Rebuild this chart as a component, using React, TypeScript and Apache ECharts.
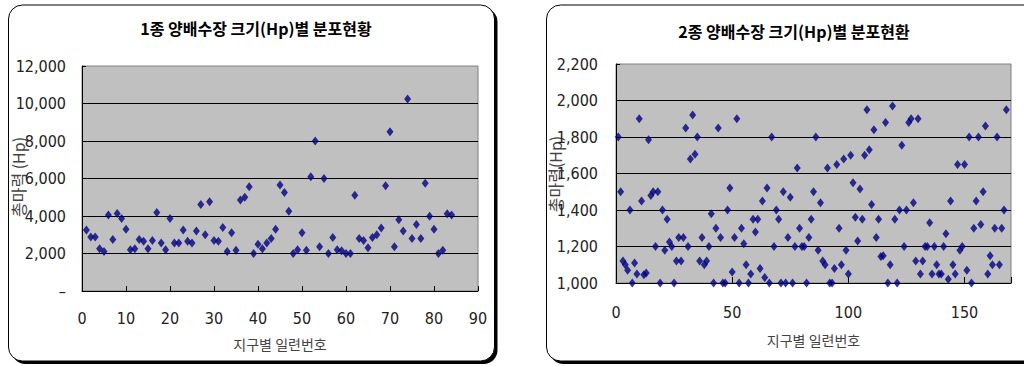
import React, { useEffect, useRef } from "react";
import * as echarts from "echarts";

// 1종 양배수장: 지구별 총마력 (Hp), 일련번호 1..84
const type1Hp = [
  3250, 2880, 2880, 2250, 2110, 4050, 2750, 4140, 3870, 3300,
  2200, 2250, 2750, 2650, 2250, 2700, 4190, 2560, 2200, 3870,
  2560, 2560, 3250, 2650, 2560, 3200, 4620, 3000, 4760, 2700,
  2650, 3390, 2110, 3110, 2180, 4860, 5000, 5560, 2000, 2500,
  2250, 2560, 2800, 3300, 5650, 5250, 4260, 2000, 2200, 3110,
  2180, 6100, 8000, 2360, 6000, 2000, 2860, 2200, 2150, 2000,
  2000, 5110, 2800, 2700, 2310, 2860, 3000, 3360, 5610, 8500,
  2360, 3800, 3200, 10240, 2800, 3550, 2800, 5750, 3990, 3300,
  2000, 2180, 4120, 4050,
];

// 2종 양배수장: 지구별 총마력 (Hp), 일련번호 1..168
const type2Hp = [
  1800, 1500, 1120, 1100, 1070, 1400, 1000, 1110, 1050, 1900,
  1450, 1045, 1055, 1785, 1480, 1500, 1200, 1500, 1000, 1400,
  1180, 1350, 1225, 1200, 1000, 1120, 1250, 1120, 1250, 1850,
  1200, 1680, 1920, 1705, 1800, 1120, 1250, 1100, 1120, 1200,
  1380, 1000, 1300, 1850, 1250, 1000, 1000, 1400, 1520, 1060,
  1250, 1900, 1000, 1300, 1215, 1100, 1000, 1050, 1350, 1280,
  1350, 1080, 1450, 1030, 1520, 1000, 1800, 1200, 1400, 1350,
  1000, 1500, 1000, 1250, 1470, 1000, 1200, 1630, 1300, 1200,
  1200, 1000, 1250, 1350, 1500, 1800, 1180, 1440, 1120, 1100,
  1630, 1000, 1000, 1080, 1650, 1300, 1100, 1680, 1180, 1050,
  1700, 1550, 1360, 1230, 1515, 1350, 1700, 1950, 1730, 1430,
  1840, 1250, 1350, 1145, 1150, 1880, 1000, 1100, 1970, 1350,
  1000, 1400, 1755, 1200, 1400, 1880, 1900, 1440, 1120, 1900,
  1050, 1120, 1200, 1200, 1330, 1050, 1200, 1100, 1050, 1050,
  1200, 1270, 1020, 1450, 1100, 1050, 1650, 1180, 1200, 1650,
  1070, 1800, 1000, 1300, 1450, 1800, 1320, 1500, 1860, 1050,
  1150, 1100, 1300, 1800, 1100, 1300, 1400, 1950,
];

const titles = ["1종 양배수장 크기(Hp)별 분포현황", "2종 양배수장 크기(Hp)별 분포현환"];
const xAxisName = "지구별 일련번호";
const yAxisNames = ["총마력 (Hp)", "총마력(Hp)"];

const numFont = '"Liberation Sans Narrow", "Arial Narrow", "DejaVu Sans Condensed", sans-serif';
const krFont = '"Noto Sans CJK KR", "Noto Sans", sans-serif';

const fmtThousands = (v: number) => v.toLocaleString("en-US");

export default function App() {
  const ref = useRef<HTMLDivElement>(null);

  useEffect(() => {
    if (!ref.current) return;
    const chart = echarts.init(ref.current, undefined, { renderer: "svg" });

    const boxes = [
      { x: 8.5, y: 5, w: 486, h: 356 },
      { x: 546.5, y: 5, w: 500, h: 356 },
    ];

    const graphics: any[] = [];
    boxes.forEach((b) => {
      graphics.push({
        type: "rect",
        z: -2,
        shape: { x: b.x + 3, y: b.y + 3, width: b.w, height: b.h, r: 14 },
        style: { fill: "#000" },
      });
      graphics.push({
        type: "rect",
        z: -1,
        shape: { x: b.x, y: b.y, width: b.w, height: b.h, r: 14 },
        style: { fill: "#fff", stroke: "#000", lineWidth: 1 },
      });
    });

    // rotated value-axis names
    const yNamePos = [
      { x: 18, y: 177 },
      { x: 555, y: 174 },
    ];
    yNamePos.forEach((p, i) => {
      graphics.push({
        type: "text",
        x: p.x,
        y: p.y,
        rotation: Math.PI / 2,
        style: {
          text: yAxisNames[i],
          align: "center",
          verticalAlign: "middle",
          fill: "#444",
          font: `16px ${krFont}`,
        },
      });
    });

    const axisLabelStyle = { color: "#222", fontFamily: numFont, fontSize: 16 };
    const nameStyle = { color: "#444", fontFamily: krFont, fontSize: 14 };

    const option: any = {
      animation: false,
      backgroundColor: "#fff",
      graphic: graphics,
      title: [
        {
          text: titles[0],
          left: 251,
          top: 15,
          textAlign: "center",
          textStyle: { fontFamily: krFont, fontSize: 16, fontWeight: "bold", color: "#000" },
        },
        {
          text: titles[1],
          left: 789,
          top: 18,
          textAlign: "center",
          textStyle: { fontFamily: krFont, fontSize: 16, fontWeight: "bold", color: "#000" },
        },
      ],
      grid: [
        {
          left: 82, right: 1024 - 478, top: 66, bottom: 366 - 291,
          show: true, backgroundColor: "#C0C0C0", borderColor: "#808080", borderWidth: 1,
        },
        {
          left: 616, right: 1024 - 1011, top: 64, bottom: 366 - 283,
          show: true, backgroundColor: "#C0C0C0", borderColor: "#808080", borderWidth: 1,
        },
      ],
      xAxis: [
        {
          gridIndex: 0, type: "value", min: 0, max: 90, interval: 10,
          name: xAxisName, nameLocation: "middle", nameGap: 46, nameTextStyle: nameStyle,
          axisLine: { show: true, lineStyle: { color: "#000", width: 1 } },
          axisTick: { show: true, inside: true, length: 5, lineStyle: { color: "#000" } },
          axisLabel: { ...axisLabelStyle, margin: 19 },
          splitLine: { show: false },
        },
        {
          gridIndex: 1, type: "value", min: 0, max: 170, interval: 50,
          name: xAxisName, nameLocation: "middle", nameGap: 50, nameTextStyle: nameStyle,
          axisLine: { show: true, lineStyle: { color: "#000", width: 1 } },
          axisTick: { show: true, inside: true, length: 6, lineStyle: { color: "#000" } },
          axisLabel: {
            ...axisLabelStyle, margin: 21,
            formatter: (v: number) => (v % 50 === 0 ? String(v) : ""),
          },
          splitLine: { show: false },
        },
      ],
      yAxis: [
        {
          gridIndex: 0, type: "value", min: 0, max: 12000, interval: 2000,
          axisLine: { show: true, lineStyle: { color: "#000", width: 1 } },
          axisTick: { show: true, inside: true, length: 4, lineStyle: { color: "#000" } },
          axisLabel: {
            ...axisLabelStyle, margin: 16,
            formatter: (v: number) => (v === 0 ? "–" : fmtThousands(v)),
          },
          splitLine: { show: true, showMinLine: false, showMaxLine: false, lineStyle: { color: "#000", width: 1 } },
        },
        {
          gridIndex: 1, type: "value", min: 1000, max: 2200, interval: 200,
          axisLine: { show: true, lineStyle: { color: "#000", width: 1 } },
          axisTick: { show: true, inside: true, length: 4, lineStyle: { color: "#000" } },
          axisLabel: { ...axisLabelStyle, margin: 18, formatter: (v: number) => fmtThousands(v) },
          splitLine: { show: true, showMinLine: false, showMaxLine: false, lineStyle: { color: "#000", width: 1 } },
        },
      ],
      series: [
        {
          type: "scatter", xAxisIndex: 0, yAxisIndex: 0,
          symbol: "diamond", symbolSize: [7, 9],
          itemStyle: { color: "#000080" },
          data: type1Hp.map((v, i) => [i + 1, v]),
        },
        {
          type: "scatter", xAxisIndex: 1, yAxisIndex: 1,
          symbol: "diamond", symbolSize: [7, 9], clip: false,
          itemStyle: { color: "#000080" },
          data: type2Hp.map((v, i) => [i + 1, v]),
        },
      ],
    };

    chart.setOption(option);
    return () => chart.dispose();
  }, []);

  return (
    <div
      ref={ref}
      style={{ position: "fixed", left: 0, top: 0, width: 1024, height: 366, background: "#fff" }}
    />
  );
}
